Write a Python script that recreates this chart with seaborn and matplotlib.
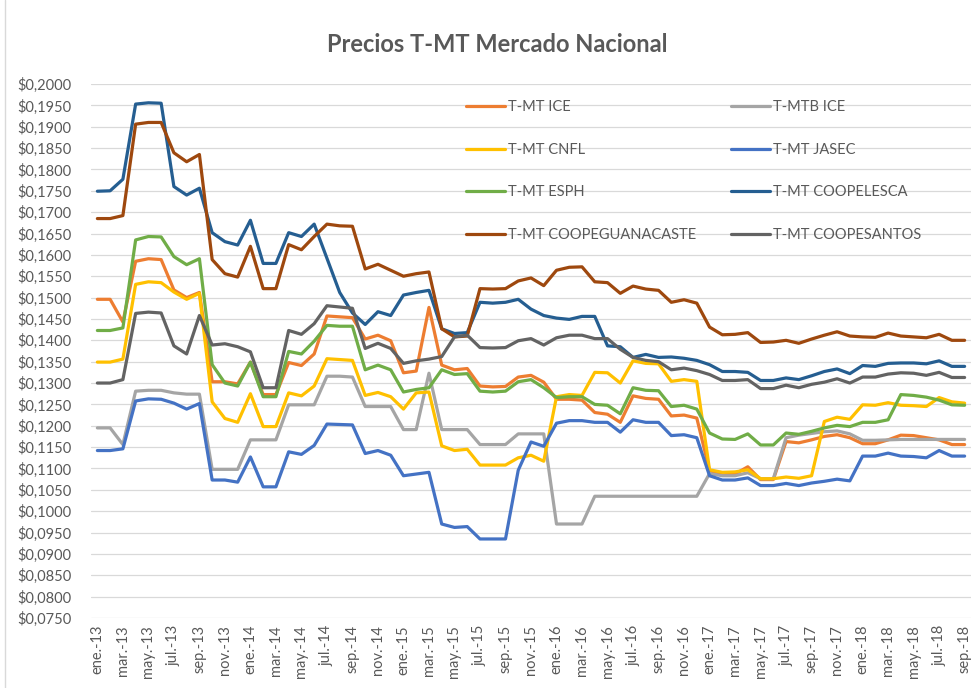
import numpy as np
import pandas as pd
import seaborn as sns
import matplotlib.pyplot as plt
from matplotlib.lines import Line2D

# monthly series ene-13 .. sep-18 (69 months)
meses = ["ene.", "feb.", "mar.", "abr.", "may.", "jun.", "jul.", "ago.", "sep.", "oct.", "nov.", "dic."]
periodos = [f"{meses[m]}-{a}" for a in range(13, 19) for m in range(12)][:69]

ice = [0.1496, 0.1496, 0.1443, 0.1585, 0.1591, 0.1589, 0.1518, 0.1500, 0.1512, 0.1303,
       0.1303, 0.1298, 0.1349, 0.1273, 0.1273, 0.1348, 0.1341, 0.1368, 0.1457, 0.1455,
       0.1453, 0.1403, 0.1412, 0.1399, 0.1324, 0.1328, 0.1477, 0.1342, 0.1331, 0.1334,
       0.1293, 0.1291, 0.1292, 0.1314, 0.1318, 0.1302, 0.1262, 0.1262, 0.1260, 0.1231,
       0.1227, 0.1208, 0.1270, 0.1264, 0.1262, 0.1223, 0.1225, 0.1218, 0.1095, 0.1085,
       0.1087, 0.1104, 0.1074, 0.1074, 0.1163, 0.1160, 0.1167, 0.1175, 0.1179, 0.1172,
       0.1158, 0.1158, 0.1167, 0.1178, 0.1177, 0.1172, 0.1167, 0.1156, 0.1156]

mtb_ice = [0.1195, 0.1195, 0.1156, 0.1281, 0.1283, 0.1283, 0.1277, 0.1274, 0.1274, 0.1098,
           0.1098, 0.1098, 0.1167, 0.1167, 0.1167, 0.1249, 0.1249, 0.1249, 0.1316, 0.1316,
           0.1314, 0.1245, 0.1245, 0.1245, 0.1191, 0.1191, 0.1323, 0.1191, 0.1191, 0.1191,
           0.1156, 0.1156, 0.1156, 0.1181, 0.1181, 0.1181, 0.0970, 0.0970, 0.0970, 0.1035,
           0.1035, 0.1035, 0.1035, 0.1035, 0.1035, 0.1035, 0.1035, 0.1035, 0.1088, 0.1083,
           0.1083, 0.1090, 0.1076, 0.1076, 0.1172, 0.1178, 0.1182, 0.1186, 0.1188, 0.1181,
           0.1166, 0.1166, 0.1167, 0.1168, 0.1168, 0.1168, 0.1168, 0.1168, 0.1168]

cnfl = [0.1349, 0.1349, 0.1356, 0.1531, 0.1537, 0.1535, 0.1513, 0.1496, 0.1510, 0.1256,
        0.1217, 0.1208, 0.1275, 0.1198, 0.1198, 0.1277, 0.1270, 0.1293, 0.1357, 0.1355,
        0.1353, 0.1271, 0.1278, 0.1268, 0.1239, 0.1277, 0.1279, 0.1153, 0.1142, 0.1145,
        0.1108, 0.1108, 0.1108, 0.1125, 0.1131, 0.1117, 0.1268, 0.1273, 0.1271, 0.1325,
        0.1324, 0.1300, 0.1352, 0.1346, 0.1345, 0.1304, 0.1308, 0.1304, 0.1097, 0.1091,
        0.1092, 0.1097, 0.1076, 0.1076, 0.1080, 0.1077, 0.1083, 0.1210, 0.1220, 0.1215,
        0.1249, 0.1248, 0.1254, 0.1248, 0.1247, 0.1245, 0.1266, 0.1256, 0.1253]

jasec = [0.1142, 0.1142, 0.1146, 0.1258, 0.1263, 0.1262, 0.1253, 0.1239, 0.1252, 0.1073,
         0.1073, 0.1068, 0.1127, 0.1057, 0.1057, 0.1139, 0.1133, 0.1154, 0.1204, 0.1203,
         0.1202, 0.1135, 0.1142, 0.1131, 0.1083, 0.1087, 0.1091, 0.0970, 0.0962, 0.0964,
         0.0935, 0.0935, 0.0935, 0.1096, 0.1162, 0.1152, 0.1206, 0.1212, 0.1212, 0.1208,
         0.1208, 0.1185, 0.1214, 0.1208, 0.1208, 0.1177, 0.1179, 0.1172, 0.1083, 0.1073,
         0.1073, 0.1078, 0.1060, 0.1060, 0.1065, 0.1060, 0.1066, 0.1070, 0.1075, 0.1071,
         0.1129, 0.1129, 0.1136, 0.1129, 0.1128, 0.1125, 0.1142, 0.1129, 0.1129]

esph = [0.1423, 0.1423, 0.1429, 0.1635, 0.1643, 0.1642, 0.1596, 0.1577, 0.1591, 0.1343,
        0.1300, 0.1293, 0.1349, 0.1268, 0.1268, 0.1374, 0.1368, 0.1398, 0.1435, 0.1433,
        0.1433, 0.1331, 0.1342, 0.1331, 0.1279, 0.1285, 0.1289, 0.1331, 0.1320, 0.1322,
        0.1281, 0.1279, 0.1281, 0.1303, 0.1308, 0.1289, 0.1266, 0.1268, 0.1268, 0.1250,
        0.1248, 0.1228, 0.1289, 0.1283, 0.1282, 0.1245, 0.1248, 0.1239, 0.1183, 0.1169,
        0.1168, 0.1181, 0.1155, 0.1155, 0.1183, 0.1180, 0.1187, 0.1195, 0.1201, 0.1198,
        0.1208, 0.1208, 0.1214, 0.1273, 0.1271, 0.1267, 0.1260, 0.1249, 0.1248]

coopelesca = [0.1749, 0.1750, 0.1777, 0.1953, 0.1956, 0.1955, 0.1760, 0.1740, 0.1756, 0.1652,
              0.1631, 0.1623, 0.1681, 0.1580, 0.1580, 0.1652, 0.1643, 0.1672, 0.1592, 0.1512,
              0.1464, 0.1437, 0.1467, 0.1458, 0.1506, 0.1512, 0.1517, 0.1427, 0.1416, 0.1418,
              0.1489, 0.1487, 0.1489, 0.1496, 0.1473, 0.1458, 0.1452, 0.1449, 0.1456, 0.1456,
              0.1387, 0.1385, 0.1360, 0.1367, 0.1360, 0.1361, 0.1358, 0.1353, 0.1343, 0.1327,
              0.1327, 0.1325, 0.1306, 0.1306, 0.1312, 0.1308, 0.1317, 0.1327, 0.1333, 0.1322,
              0.1341, 0.1339, 0.1346, 0.1347, 0.1347, 0.1345, 0.1352, 0.1339, 0.1339]

coopeguanacaste = [0.1685, 0.1685, 0.1692, 0.1906, 0.1910, 0.1910, 0.1839, 0.1818, 0.1835, 0.1589,
                   0.1556, 0.1548, 0.1620, 0.1521, 0.1521, 0.1624, 0.1612, 0.1643, 0.1672, 0.1668,
                   0.1667, 0.1567, 0.1578, 0.1564, 0.1550, 0.1556, 0.1560, 0.1427, 0.1408, 0.1410,
                   0.1521, 0.1520, 0.1521, 0.1539, 0.1546, 0.1528, 0.1564, 0.1571, 0.1572, 0.1537,
                   0.1535, 0.1510, 0.1527, 0.1520, 0.1517, 0.1489, 0.1495, 0.1487, 0.1431, 0.1413,
                   0.1414, 0.1418, 0.1395, 0.1396, 0.1400, 0.1393, 0.1403, 0.1412, 0.1420, 0.1410,
                   0.1408, 0.1407, 0.1417, 0.1410, 0.1408, 0.1406, 0.1414, 0.1400, 0.1400]

coopesantos = [0.1300, 0.1300, 0.1308, 0.1463, 0.1466, 0.1464, 0.1387, 0.1368, 0.1458, 0.1389,
               0.1392, 0.1385, 0.1373, 0.1289, 0.1289, 0.1423, 0.1414, 0.1439, 0.1481, 0.1478,
               0.1475, 0.1381, 0.1393, 0.1381, 0.1346, 0.1352, 0.1356, 0.1362, 0.1408, 0.1412,
               0.1383, 0.1382, 0.1383, 0.1399, 0.1404, 0.1389, 0.1406, 0.1412, 0.1412, 0.1404,
               0.1404, 0.1379, 0.1360, 0.1353, 0.1350, 0.1331, 0.1335, 0.1329, 0.1320, 0.1306,
               0.1306, 0.1308, 0.1287, 0.1287, 0.1295, 0.1289, 0.1297, 0.1302, 0.1310, 0.1300,
               0.1314, 0.1314, 0.1321, 0.1324, 0.1323, 0.1318, 0.1325, 0.1313, 0.1313]

series = {
    "T-MT ICE": ice,
    "T-MTB ICE": mtb_ice,
    "T-MT CNFL": cnfl,
    "T-MT JASEC": jasec,
    "T-MT ESPH": esph,
    "T-MT COOPELESCA": coopelesca,
    "T-MT COOPEGUANACASTE": coopeguanacaste,
    "T-MT COOPESANTOS": coopesantos,
}
colores = ["#ED7D31", "#A5A5A5", "#FFC000", "#4472C4", "#70AD47", "#255E91", "#9E480E", "#636363"]

df = pd.DataFrame([
    {"mes": i, "serie": nombre, "precio": v}
    for nombre, vals in series.items() for i, v in enumerate(vals)
])

sns.set_style("white")
plt.rcParams["font.family"] = ["Lato", "DejaVu Sans"]
gris = "#595959"

fig = plt.figure(figsize=(9.77, 6.88), dpi=100)
ax = fig.add_axes([91 / 977, 1 - 618 / 688, (971 - 91) / 977, (618 - 84) / 688])

sns.lineplot(data=df, x="mes", y="precio", hue="serie", hue_order=list(series.keys()),
             palette=colores, linewidth=2.3, legend=False, ax=ax)

ax.set_xlim(-0.5, len(periodos) - 0.5)
ax.set_ylim(0.075, 0.2)
ax.set_yticks(np.arange(0.075, 0.20001, 0.005))
ax.set_yticklabels([f"${v:.4f}".replace(".", ",") for v in np.arange(0.075, 0.20001, 0.005)])
ax.set_xticks(range(0, len(periodos), 2))
ax.set_xticklabels(periodos[::2], rotation=90)
ax.tick_params(axis="y", length=0, pad=14, labelsize=10.5, labelcolor=gris)
ax.tick_params(axis="x", length=0, pad=5, labelsize=10.5, labelcolor=gris)
ax.grid(axis="y", color="#D9D9D9", linewidth=0.9)
ax.set_axisbelow(True)
for s in ax.spines.values():
    s.set_visible(False)
ax.set_xlabel("")
ax.set_ylabel("")

# legend laid out like the Excel one: 2 columns, row-major order
nombres = list(series.keys())
orden = [0, 2, 4, 6, 1, 3, 5, 7]
handles = [Line2D([0], [0], color=colores[k], lw=2.3) for k in orden]
fig.legend(handles, [nombres[k] for k in orden], ncol=2, frameon=False,
           loc="upper left", bbox_to_anchor=(466 / 977, 1 - 100 / 688),
           borderpad=0, borderaxespad=0, handlelength=2.7, handletextpad=0.2,
           labelspacing=1.97, columnspacing=2.35, fontsize=10.5, labelcolor=gris)

fig.text(497 / 977, 1 - 44 / 688, "Precios T-MT Mercado Nacional", ha="center", va="center",
         fontsize=17, fontweight="bold", color=gris)

fig.add_artist(Line2D([5 / 977, 5 / 977], [0, 1], color="#D9D9D9", lw=1))

fig.savefig("out.png", dpi=100)
